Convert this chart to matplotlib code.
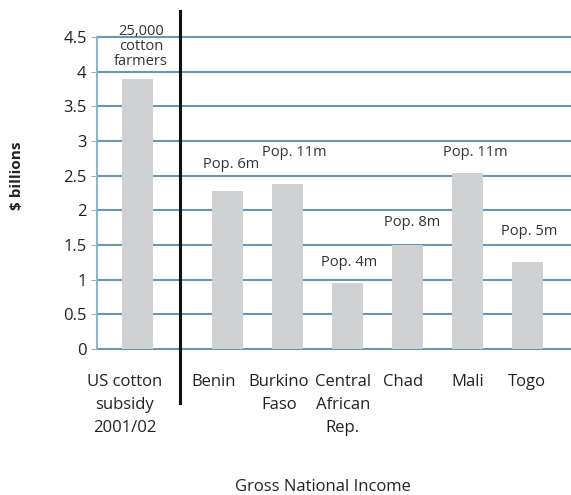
import matplotlib.pyplot as plt
from matplotlib.transforms import ScaledTranslation

plt.rcParams['font.family'] = ['Open Sans', 'DejaVu Sans']

# data
labels = ["US cotton\nsubsidy\n2001/02", "Benin", "Burkino\nFaso", "Central\nAfrican\nRep.",
          "Chad", "Mali", "Togo"]
positions = [0, 1.5, 2.5, 3.5, 4.5, 5.5, 6.5]
values = [3.90, 2.28, 2.38, 0.95, 1.50, 2.54, 1.26]
notes = ["25,000\ncotton\nfarmers", "Pop. 6m", "Pop. 11m", "Pop. 4m", "Pop. 8m", "Pop. 11m", "Pop. 5m"]

# where each note sits (x offset from bar, y centre)
note_x = [0.05, 0.05, 0.1, 0.02, 0.08, 0.13, 0.02]
note_y = [4.36, 2.655, 2.83, 1.255, 1.83, 2.83, 1.70]
# small nudges of the tick labels (pixels)
label_dx = [-13, -14, -9, -5, -5, 0, -1]

fig = plt.figure(figsize=(5.71, 4.95), dpi=100)
ax = fig.add_axes([0.17, 0.295, 0.83, 0.63])

ax.set_ylim(0, 4.5)
ax.set_xlim(-0.68, 7.22)
ax.set_yticks([0, 0.5, 1, 1.5, 2, 2.5, 3, 3.5, 4, 4.5])
ax.set_yticklabels(["0", "0.5", "1", "1.5", "2", "2.5", "3", "3.5", "4", "4.5"])
ax.yaxis.grid(True, color='#6797b3', linewidth=1.5)
ax.set_axisbelow(True)
for gl in ax.yaxis.get_gridlines():
    gl.set_clip_on(False)

ax.bar(positions, values, width=0.52, color='#d0d1d3', zorder=2)

for i in range(len(notes)):
    ax.text(positions[i] + note_x[i], note_y[i], notes[i], ha='center', va='center',
            fontsize=10.5, color='#333333', linespacing=1.0, zorder=3)

ax.set_xticks(positions)
ax.set_xticklabels(labels, fontsize=12, color='#222222', linespacing=1.58)
ax.tick_params(axis='x', length=0, pad=18)
ax.tick_params(axis='y', labelsize=12, colors='#222222', length=4, color='#8fb3c8')
for lab, dx in zip(ax.get_xticklabels(), label_dx):
    lab.set_transform(lab.get_transform() + ScaledTranslation(dx / 100, 0, fig.dpi_scale_trans))
for s in ['top', 'right', 'bottom']:
    ax.spines[s].set_visible(False)
ax.spines['left'].set_color('#8fb3c8')
ax.spines['left'].set_linewidth(1.5)

# divider between subsidy and the countries
ax.plot([0.71, 0.71], [-0.78, 4.88], color='#111111', linewidth=2.2, clip_on=False, zorder=4)

fig.text(0.03, 0.644, "$ billions", rotation=90, fontsize=11, fontweight='bold',
         ha='center', va='center', color='#222222')
fig.text(0.566, 0.016, "Gross National Income", fontsize=12, ha='center', va='center',
         color='#222222')

fig.savefig('out.png', dpi=100)
